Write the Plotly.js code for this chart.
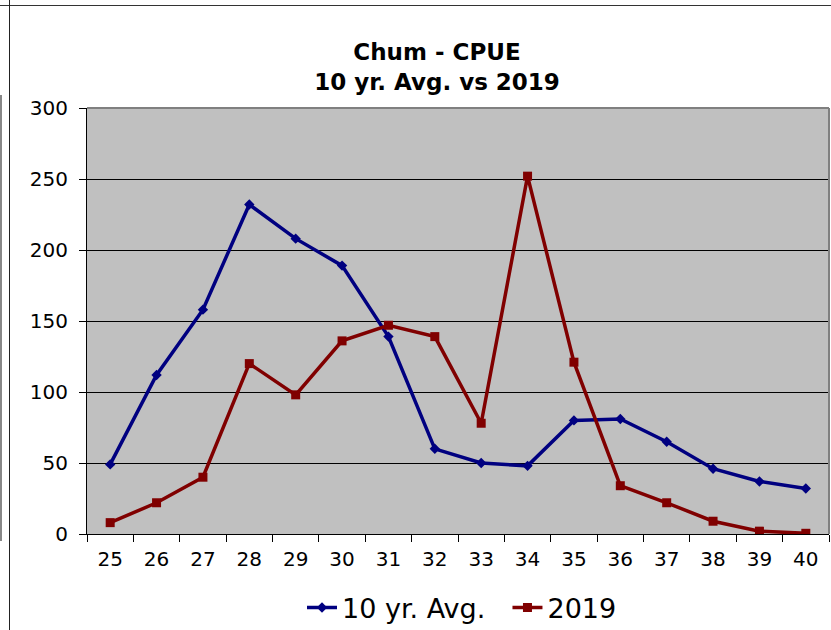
<!DOCTYPE html>
<html>
<head>
<meta charset="utf-8">
<script src="https://cdn.plot.ly/plotly-3.0.1.min.js"></script>
<style>
html,body{margin:0;padding:0;background:#fff;}
#chart{position:absolute;left:0;top:0;width:831px;height:630px;}
.ln{position:absolute;background:#000;}
</style>
</head>
<body>
<div id="chart"></div>
<div class="ln" style="left:0;top:5px;width:831px;height:1px;background:#333;"></div>
<div class="ln" style="left:9px;top:0;width:1px;height:630px;background:#222;"></div>
<div class="ln" style="left:0;top:95px;width:2px;height:446px;background:#888;"></div>
<script>
const weeks = ['25','26','27','28','29','30','31','32','33','34','35','36','37','38','39','40'];
const avg10 = [49, 112, 158, 232, 208, 189, 139, 60, 50, 48, 80, 81, 65, 46, 37, 32];
const y2019 = [8, 22, 40, 120, 98, 136, 147, 139, 78, 252, 121, 34, 22, 9, 2, 0.5];
const yTicks = [0, 50, 100, 150, 200, 250, 300];

const traces = [
  {x: weeks, y: avg10, name: '10 yr. Avg.\u00a0\u00a0', type: 'scatter', mode: 'lines+markers',
   line: {color: '#000080', width: 3.5}, marker: {symbol: 'diamond', size: 8, color: '#000080'}},
  {x: weeks, y: y2019, name: '2019', type: 'scatter', mode: 'lines+markers',
   line: {color: '#800000', width: 3.5}, marker: {symbol: 'square', size: 9, color: '#800000'}}
];

const layout = {
  width: 831, height: 630,
  margin: {l: 87, r: 2, t: 108, b: 96},
  paper_bgcolor: 'rgba(0,0,0,0)',
  plot_bgcolor: '#C0C0C0',
  font: {family: 'DejaVu Sans, sans-serif', color: '#000'},
  title: {text: '<b>Chum - CPUE</b><br><b>10 yr. Avg. vs 2019</b>', font: {size: 23, color: '#000'},
          x: 437/831, xanchor: 'center', y: 1 - 60/630, yanchor: 'middle', yref: 'container'},
  showlegend: true,
  legend: {orientation: 'h', xref: 'container', x: 462/831, xanchor: 'center',
           yref: 'container', y: 1 - 608/630, yanchor: 'middle',
           font: {size: 27, color: '#000'}, bgcolor: 'rgba(0,0,0,0)', itemwidth: 30, tracegroupgap: 0},
  xaxis: {type: 'category', range: [-0.5, 15.5], tickson: 'boundaries', ticks: 'outside',
          ticklen: 7, tickcolor: '#000', showline: true, linecolor: '#000', linewidth: 1,
          showgrid: false, zeroline: false, tickfont: {size: 20}, ticklabelstandoff: 7},
  yaxis: {range: [0, 300], tickvals: yTicks, ticks: 'outside', ticklen: 7, tickcolor: '#000',
          showline: true, linecolor: '#000', linewidth: 1, showgrid: true, gridcolor: '#000',
          gridwidth: 1, zeroline: false, tickfont: {size: 20}, ticklabelstandoff: 7},
  shapes: [
    {type: 'line', xref: 'paper', yref: 'paper', x0: 0, x1: 1, y0: 1, y1: 1, line: {color: '#808080', width: 2}},
    {type: 'line', xref: 'paper', yref: 'paper', x0: 1, x1: 1, y0: 0, y1: 1, line: {color: '#808080', width: 2}}
  ]
};

Plotly.newPlot('chart', traces, layout, {displayModeBar: false, staticPlot: true});
</script>
</body>
</html>
